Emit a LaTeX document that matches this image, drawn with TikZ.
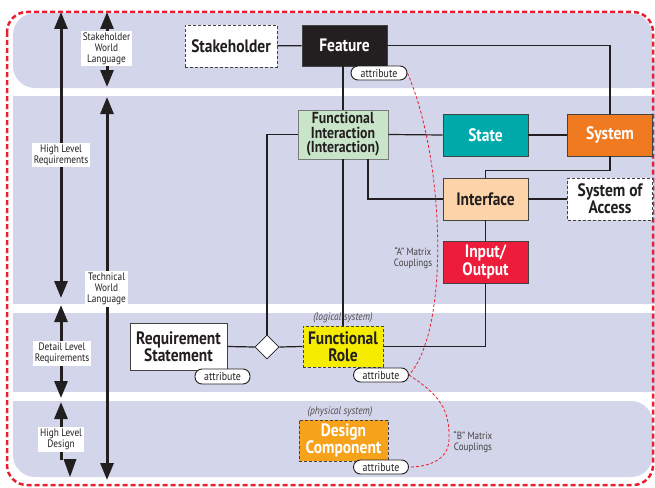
\documentclass[tikz,border=0pt]{standalone}
\usepackage{fontspec}
\setmainfont{PT Sans}[FakeStretch=0.86]
\usetikzlibrary{arrows.meta,shapes.geometric}

\definecolor{band}{RGB}{211,213,234}
\definecolor{ink}{RGB}{35,31,32}
\definecolor{redline}{RGB}{232,32,48}
\definecolor{figreen}{RGB}{201,229,201}
\definecolor{stateteal}{RGB}{0,169,170}
\definecolor{sysorange}{RGB}{240,122,32}
\definecolor{ifpeach}{RGB}{253,211,170}
\definecolor{iored}{RGB}{236,28,58}
\definecolor{fryellow}{RGB}{245,236,0}
\definecolor{dcorange}{RGB}{247,162,27}

\tikzset{
  box/.style={draw=ink!85, line width=0.8pt, inner sep=0pt, align=center, text=ink,
    minimum width=85pt, minimum height=42pt,
    font=\bfseries\fontsize{18}{16}\selectfont},
  dashbox/.style={box, dash pattern=on 3pt off 2pt, fill=white},
  pill/.style={draw=ink, line width=0.9pt, fill=white, rounded corners=7pt,
    minimum width=55pt, minimum height=14pt, inner sep=0pt, text=ink,
    font=\fontsize{11.5}{12}\selectfont},
  link/.style={draw=ink, line width=1.2pt},
  couple/.style={draw=redline, line width=0.8pt, dash pattern=on 3pt off 2pt},
  scalearrow/.style={draw=ink, line width=3pt,
    {Triangle[length=17pt,width=13pt]}-{Triangle[length=17pt,width=13pt]}},
  sidelabel/.style={fill=white, inner sep=2pt, align=center, text=ink,
    font=\fontsize{10.8}{11}\selectfont},
  mlabel/.style={align=center, text=ink!85, inner sep=0pt,
    font=\fontsize{10.5}{10.5}\selectfont},
  syslabel/.style={text=ink!80, inner sep=0pt, font=\itshape\fontsize{11}{11}\selectfont}
}

\begin{document}
\begin{tikzpicture}[x=1pt,y=-1pt]
\useasboundingbox (0,0) rectangle (655,487);

% layer bands
\begin{scope}
  \clip (0,0) rectangle (655,487);
  \fill[band, rounded corners=22pt] (13,13) rectangle (652,88);
  \fill[band] (600,60) rectangle (655,88);
  \fill[band] (13,96) rectangle (655,304);
  \fill[band] (13,313) rectangle (655,392);
  \fill[band, rounded corners=22pt] (13,401) rectangle (653,477);
  \fill[band] (13,401) rectangle (60,430);
\end{scope}

% outer dashed frame
\draw[redline, line width=2.5pt, dash pattern=on 5pt off 3pt, rounded corners=20pt]
  (7,12) rectangle (653,485);

% scale arrows, left column
\coordinate (hlrTop) at (61,12);
\coordinate (hlrBot) at (61,298);
\coordinate (dlrTop) at (61,305);
\coordinate (dlrBot) at (61,398);
\coordinate (hldTop) at (61,402);
\coordinate (hldBot) at (61,460);
\draw[scalearrow] (hlrTop) -- (hlrBot);
\draw[scalearrow] (dlrTop) -- (dlrBot);
\draw[draw=ink, line width=3pt, -{Triangle[length=17pt,width=13pt]}] (hldBot) -- (hldTop);
\fill[ink] (63.5,459) -- (76.5,459) -- (70,477) -- cycle;
\node[sidelabel] (hlr) at (61,155) {High Level\\Requirements};
\node[sidelabel] (dlr) at (62,353.5) {Detail Level\\Requirements};
\node[sidelabel] (hld) at (61,439.5) {High Level\\Design};

% scale arrows, second column
\coordinate (swlTop) at (107,12);
\coordinate (swlBot) at (107,87);
\coordinate (twlTop) at (107,97);
\coordinate (twlBot) at (107,480);
\draw[scalearrow] (swlTop) -- (swlBot);
\draw[scalearrow] (twlTop) -- (twlBot);
\node[sidelabel] (swl) at (106.5,48.5) {Stakeholder\\World\\Language};
\node[sidelabel] (twl) at (106.5,289) {Technical\\World\\Language};

% entities
\node[dashbox, minimum width=92pt] (stake) at (231,46) {Stakeholder};
\node[box, fill=ink, text=white, minimum height=41pt] (feat) at (344.5,45.5) {Feature};
\node[box, fill=figreen, draw=ink!60, minimum width=90pt, minimum height=49pt,
      font=\bfseries\fontsize{16}{14.5}\selectfont] (fi) at (343,134.5)
      {Functional\\Interaction\\(Interaction)};
\node[box, fill=stateteal, text=white] (state) at (485.5,135) {State};
\node[box, fill=sysorange, text=white] (sys) at (610,135) {System};
\node[box, fill=ifpeach] (iface) at (485.5,199) {Interface};
\node[dashbox] (soa) at (610,199) {System of\\Access};
\node[box, fill=iored, text=white] (io) at (485.5,262) {Input/\\Output};
\node[dashbox, fill=fryellow, minimum width=80pt, minimum height=41pt,
      font=\bfseries\fontsize{18}{17}\selectfont] (fr) at (343,346.5)
      {Functional\\Role};
\node[dashbox, fill=dcorange, text=white, minimum width=89pt, minimum height=41pt] (dc) at (343.5,440.5)
      {Design\\Component};
\node[box, fill=white, minimum width=97pt, minimum height=47pt] (rs) at (178.5,346.5)
      {Requirement\\Statement};
\node[diamond, draw=ink, fill=white, line width=0.8pt, inner sep=0pt, minimum size=24pt] (dia) at (267,347) {};

% connectors
\draw[link] (stake) -- (feat);
\draw[link] (feat.east) -| (sys.north);
\draw[link] (fi.north) -- (fi.north |- feat.south);
\draw[link] (fi.east) -- (state.west);
\draw[link] (state) -- (sys);
\draw[link] (fi.west) -| (dia.north);
\draw[link] ([xshift=25pt]fi.south) |- (iface.west);
\draw[link] (sys.south) -- ++(0,14) -| (iface.north);
\draw[link] (iface) -- (soa);
\draw[link] (iface) -- (io);
\draw[link] (io.south) |- (fr.east);
\draw[link] (fi.south) -- (fr.north);
\draw[link] (fr.south) -- (dc.north |- fr.south);
\draw[link] (rs.east) -- (dia.west);
\draw[link] (dia.east) -- (fr.west);

% system annotations
\node[syslabel] (lg) at (343,318) {(logical system)};
\node[syslabel] (ph) at (340,412) {(physical system)};

% attribute tags
\node[pill, minimum width=56pt] (fattr) at (379,73) {attribute};
\node[pill, minimum height=15pt] (rsattr) at (222.5,376.5) {attribute};
\node[pill] (frattr) at (381,375) {attribute};
\node[pill] (dcattr) at (381,467) {attribute};

% matrix couplings
\draw[couple] (fattr.east) .. controls (445,160) and (450,330) .. (frattr.east);
\draw[couple] (frattr.east) .. controls (440,395) and (450,410) .. (449,440)
  .. controls (448,462) and (425,467) .. (dcattr.east);
\node[mlabel] (amat) at (413,258) {“A” Matrix\\Couplings};
\node[mlabel] (bmat) at (473,442) {“B” Matrix\\Couplings};

\end{tikzpicture}
\end{document}
